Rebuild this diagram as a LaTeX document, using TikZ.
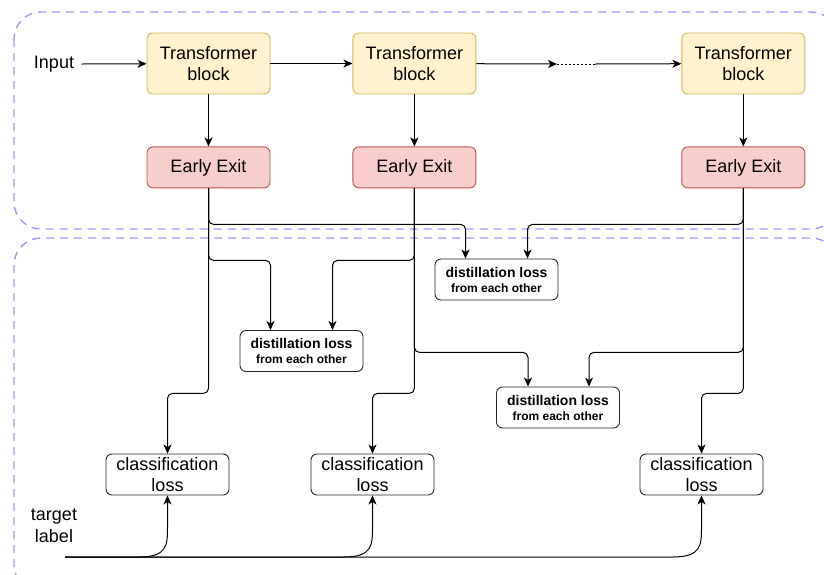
\documentclass[tikz,border=0pt]{standalone}
\usepackage{fontspec}
\setmainfont{Liberation Sans}
\usetikzlibrary{positioning, arrows.meta, calc}
\definecolor{blockfill}{HTML}{FFF2CC}
\definecolor{blockdraw}{HTML}{D6B656}
\definecolor{exitfill}{HTML}{F8CECC}
\definecolor{exitdraw}{HTML}{B85450}
\definecolor{regioncol}{HTML}{9999FF}
\newcommand{\bigtext}{\fontsize{18}{21.5}\selectfont}
\tikzset{%
  block/.style={draw=blockdraw, fill=blockfill, rounded corners=6pt, minimum width=123pt,
    minimum height=61pt, align=center, inner sep=0pt, line width=0.9pt, font=\bigtext},
  exitbox/.style={block, draw=exitdraw, fill=exitfill, minimum height=41pt},
  loss/.style={draw=black!85, rounded corners=6pt, minimum width=123pt, minimum height=41pt,
    align=center, inner sep=0pt, line width=0.9pt, font=\bigtext},
  distill/.style={loss, font=\fontsize{14}{15}\selectfont\bfseries},
  link/.style={->, line width=1pt, rounded corners=5pt},
  region/.style={draw=regioncol, dash pattern=on 8pt off 6pt, line width=1.4pt, rounded corners=27pt}
}

\begin{document}
\begin{tikzpicture}[x=1pt, y=-1pt, >={Stealth[length=9pt, width=8pt, inset=2.5pt]}]
\useasboundingbox (0,0) rectangle (824,574);

% the two dashed regions
\draw[region] (14,12) rectangle (838,229);
\draw[region] (14,238) rectangle (838,592);

\node[block] (tb1) at (208.5,63.5) {Transformer\\block};
\node[block, right=82pt of tb1] (tb2) {Transformer\\block};
\node[block, right=205pt of tb2] (tb3) {Transformer\\block};

\node[exitbox, below=52pt of tb1] (ee1) {Early Exit};
\node[exitbox, below=52pt of tb2] (ee2) {Early Exit};
\node[exitbox, below=52pt of tb3] (ee3) {Early Exit};

\node[font=\bigtext] (in) at (54,64) {Input};
\coordinate (d1) at (557,64);
\coordinate (d2) at (595,64);

\node[distill] (dl13) at (496.5,279.5) {distillation loss\\{\fontsize{12}{15}\selectfont from each other}};
\node[distill] (dl12) at (301.5,351) {distillation loss\\{\fontsize{12}{15}\selectfont from each other}};
\node[distill] (dl23) at (558,407.5) {distillation loss\\{\fontsize{12}{15}\selectfont from each other}};

\node[loss] (cl1) at (167.5,474.5) {classification\\loss};
\node[loss] (cl2) at (372.5,474.5) {classification\\loss};
\node[loss] (cl3) at (701.5,474.5) {classification\\loss};

\node[font=\bigtext, align=center] (tgt) at (54,526) {target\\label};
\coordinate (tl) at (65,557);

\draw[link] ([xshift=4pt]in.east) -- (tb1);
\draw[link] (tb1) -- (tb2);
\draw[link] (tb2) -- (d1);
\draw[line width=1pt, dash pattern=on 2pt off 2pt] (d1) -- (d2);
\draw[link] (d2) -- (tb3);

\draw[link] (tb1) -- (ee1);
\draw[link] (tb2) -- (ee2);
\draw[link] (tb3) -- (ee3);

% exit 1
\draw[link] (ee1.south) -- ++(0,36) -| ([xshift=-31pt]dl13.north);
\draw[link] (ee1.south) -- ++(0,72) -| ([xshift=-31pt]dl12.north);
\draw[link] (ee1.south) -- ++(0,205) -| (cl1.north);
% exit 2
\draw[link] (ee2.south) -- ++(0,72) -| ([xshift=31pt]dl12.north);
\draw[link] (ee2.south) -- ++(0,164) -| ([xshift=-30pt]dl23.north);
\draw[link] (ee2.south) -- ++(0,205) -| (cl2.north);
% exit 3
\draw[link] (ee3.south) -- ++(0,36) -| ([xshift=31pt]dl13.north);
\draw[link] (ee3.south) -- ++(0,164) -| ([xshift=31pt]dl23.north);
\draw[link] (ee3.south) -- ++(0,205) -| (cl3.north);

% target label
\draw[link] (tl) -- ([xshift=-34pt]cl1.south |- tl) .. controls (cl1.south |- tl) and ([yshift=-50pt]cl1.south) .. ([yshift=-26pt]cl1.south) -- (cl1.south);
\draw[link] (tl) -- ([xshift=-34pt]cl2.south |- tl) .. controls (cl2.south |- tl) and ([yshift=-50pt]cl2.south) .. ([yshift=-26pt]cl2.south) -- (cl2.south);
\draw[link] (tl) -- ([xshift=-34pt]cl3.south |- tl) .. controls (cl3.south |- tl) and ([yshift=-50pt]cl3.south) .. ([yshift=-26pt]cl3.south) -- (cl3.south);

\end{tikzpicture}
\end{document}
